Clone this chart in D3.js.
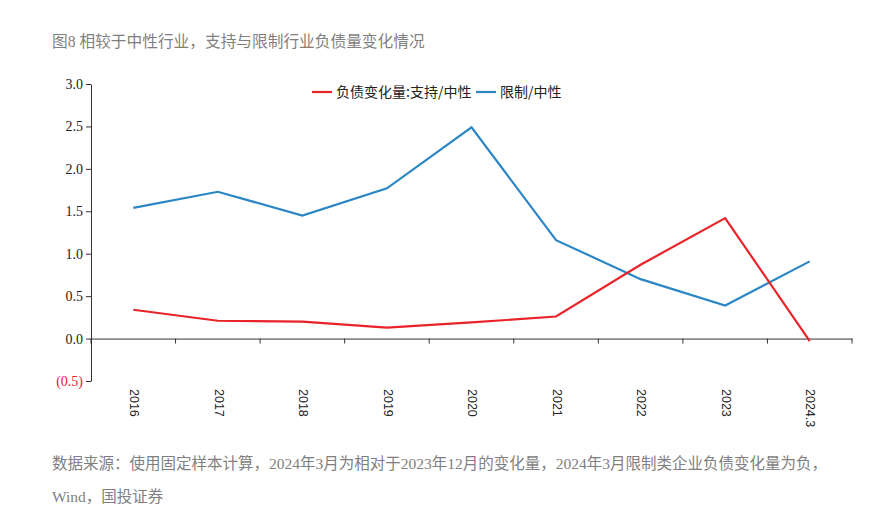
<!DOCTYPE html>
<html><head><meta charset="utf-8">
<script src="https://cdn.jsdelivr.net/npm/d3@7"></script>
<style>body{margin:0;background:#fff}</style>
</head><body>
<svg id="c" width="880" height="526"></svg>
<script>
const categories = ["2016","2017","2018","2019","2020","2021","2022","2023","2024.3"];
const supportVsNeutral = [0.34,0.21,0.20,0.13,0.19,0.26,0.87,1.42,-0.03];
const restrictVsNeutral = [1.54,1.73,1.45,1.77,2.49,1.16,0.70,0.39,0.91];
const yTicks = [-0.5,0,0.5,1.0,1.5,2.0,2.5,3.0];
const seriesNames = ["负债变化量:支持/中性","限制/中性"];
const titleText = "图8 相较于中性行业，支持与限制行业负债量变化情况";
const noteLines = ["数据来源：使用固定样本计算，2024年3月为相对于2023年12月的变化量，2024年3月限制类企业负债变化量为负，","Wind，国投证券"];

const svg = d3.select("#c");
const x = d3.scaleBand().domain(categories).range([91,852]);
const y = d3.scaleLinear().domain([-0.5,3.0]).range([381,84]);
const serif = "'Liberation Serif','Times New Roman',serif";
const cjk = "'Liberation Serif','Noto Sans CJK SC',serif";

svg.append("text").attr("x",52).attr("y",47).attr("fill","#7f7f7f")
  .style("font-family","'Liberation Serif','Noto Sans CJK SC',sans-serif").style("font-size","15.7px").text(titleText);

// y axis
const ya = svg.append("g").attr("transform","translate(91,0)")
  .call(d3.axisLeft(y).tickValues(yTicks).tickSize(5).tickSizeOuter(0)
    .tickFormat(d => d<0 ? "(" + Math.abs(d).toFixed(1) + ")" : d.toFixed(1)));
ya.select(".domain").attr("stroke","#333");
ya.selectAll(".tick line").attr("stroke","#333");
ya.selectAll(".tick text").style("font-family",serif).style("font-size","14px")
  .attr("fill", d => d<0 ? "#e8232a" : "#222").attr("x",-8);

// x axis at zero
const xa = svg.append("g").attr("transform",`translate(0,${y(0)})`)
  .call(d3.axisBottom(x).tickSize(0).tickFormat(""));
xa.select(".domain").attr("stroke","#333");
const bounds = categories.map(c => x(c)+x.bandwidth()).concat([x(categories[0])]);
svg.append("g").selectAll("line").data(bounds).join("line")
  .attr("x1",d=>d).attr("x2",d=>d).attr("y1",y(0)).attr("y2",y(0)+5).attr("stroke","#333");

// category labels rotated
svg.append("g").selectAll("text").data(categories).join("text")
  .attr("transform",d=>`translate(${x(d)+x.bandwidth()/2},389) rotate(90)`)
  .attr("text-anchor","start").attr("dominant-baseline","middle")
  .style("font-family","'Liberation Sans',Arial,sans-serif").style("font-size","12.5px").attr("fill","#222").text(d=>d);

const line = d3.line().x((d,i)=>x(categories[i])+x.bandwidth()/2).y(d=>y(d));
svg.append("path").datum(restrictVsNeutral).attr("d",line).attr("fill","none").attr("stroke","#2b86c5").attr("stroke-width",2.2);
svg.append("path").datum(supportVsNeutral).attr("d",line).attr("fill","none").attr("stroke","#e8232a").attr("stroke-width",2.2);

// legend
const lg = svg.append("g").style("font-family","'Noto Sans CJK SC',sans-serif").style("font-size","14px");
const legendItems = [{n:seriesNames[0],c:"#e8232a",x:312},{n:seriesNames[1],c:"#2b86c5",x:476}];
legendItems.forEach(it=>{
  lg.append("line").attr("x1",it.x).attr("x2",it.x+20).attr("y1",92).attr("y2",92).attr("stroke",it.c).attr("stroke-width",2.2);
  lg.append("text").attr("x",it.x+24).attr("y",97).attr("fill","#222").text(it.n);
});

// notes
svg.append("g").selectAll("text").data(noteLines).join("text")
  .attr("x",52).attr("y",(d,i)=>469+i*33).attr("fill","#7f7f7f")
  .style("font-family",cjk).style("font-size","15.5px").text(d=>d);
</script>
</body></html>
